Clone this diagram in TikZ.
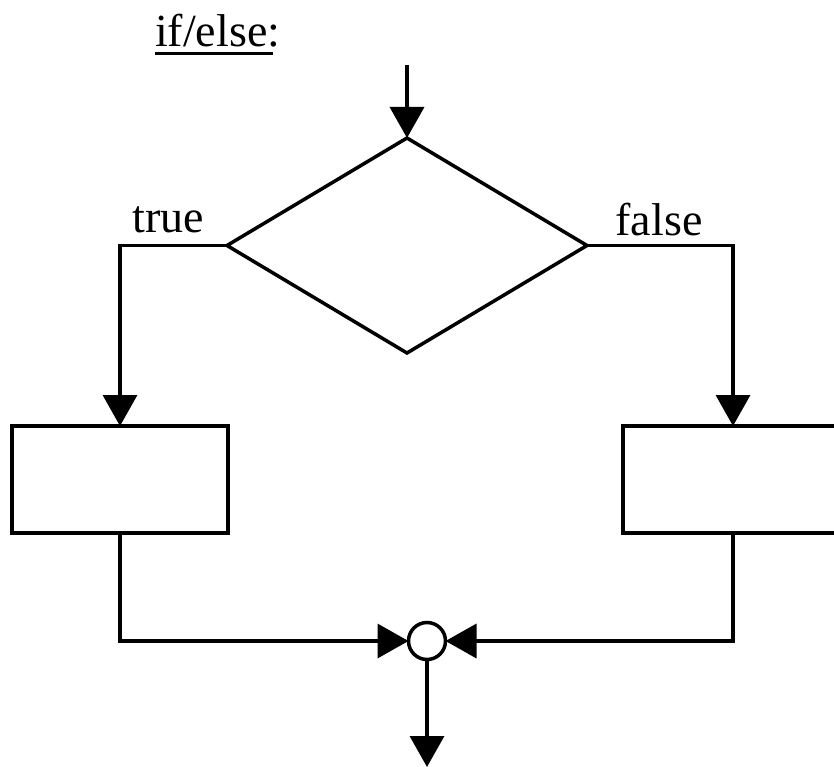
\documentclass[tikz,border=0pt]{standalone}
\usepackage{fontspec}
\setmainfont{Liberation Serif}
\usetikzlibrary{arrows.meta,shapes.geometric}
\begin{document}
\begin{tikzpicture}[x=1pt,y=-1pt,
  line width=3.5pt,
  every node/.style={inner sep=0pt,outer sep=0pt},
  flowline/.style={-{Triangle[length=31pt,width=34pt]},line join=miter},
  block/.style={draw,rectangle,minimum width=216pt,minimum height=107pt},
  test/.style={draw,diamond,minimum width=360pt,minimum height=215pt},
  joint/.style={draw,circle,minimum size=37pt,fill=white},
  lbl/.style={anchor=base,font=\fontsize{46}{50}\selectfont}]
  \useasboundingbox (0,0) rectangle (834,767);
  \clip (0,0) rectangle (834,767);

  % heading
  \node[lbl,anchor=base west] (title) at (155,47) {if/else:};
  \draw[line width=2.8pt] (155,53.5) -- (273,53.5);

  % decision and the two branches
  \coordinate (entry) at (407,65);
  \node[test] (cond) at (407,245.5) {};
  \node[block] (yes) at (120,479.5) {};
  \node[block,minimum width=220pt] (no) at (733,479.5) {};
  \node[joint] (merge) at (427,641) {};
  \coordinate (exit) at (427,767);

  \node[lbl] (tlbl) at (168,233) {true};
  \node[lbl] (flbl) at (659,235) {false};

  % connectors
  \draw[flowline] (entry) -- (cond.north);
  \draw[flowline] (cond.west) -| (yes.north);
  \draw[flowline] (cond.east) -| (no.north);
  \draw[flowline] (yes.south) |- (merge.west);
  \draw[flowline] (no.south) |- (merge.east);
  \draw[flowline] (merge.south) -- (exit);
\end{tikzpicture}
\end{document}
